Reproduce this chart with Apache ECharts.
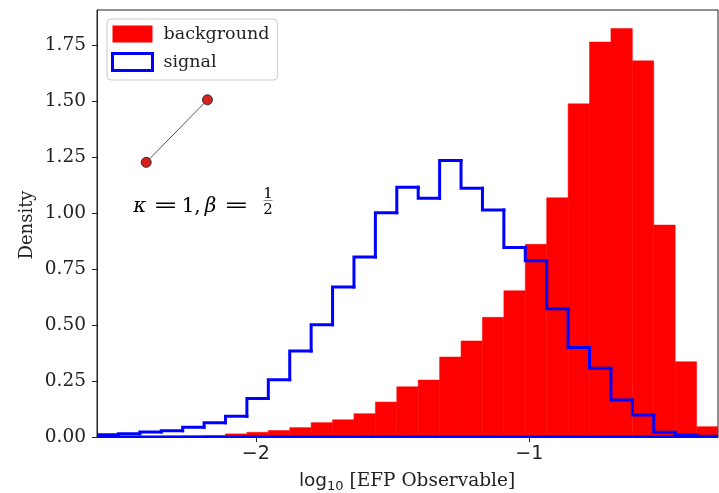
<!DOCTYPE html>
<html><head><meta charset="utf-8">
<script src="https://cdn.jsdelivr.net/npm/echarts@6/dist/echarts.min.js"></script>
<style>html,body{margin:0;padding:0;background:#fff}#c{width:719px;height:493px}</style>
</head><body><div id="c"></div>
<script>
// ---- data ----
const binStart = -2.581;
const binEnd = -0.3095;
const binCount = 29;
const background = [0, 0, 0, 0.004, 0.005, 0.006, 0.014, 0.021, 0.029, 0.042, 0.064, 0.077, 0.104, 0.156, 0.224, 0.254, 0.357, 0.429, 0.534, 0.653, 0.860, 1.068, 1.487, 1.763, 1.823, 1.679, 0.946, 0.336, 0.046];
const signal = [0.010, 0.014, 0.022, 0.028, 0.043, 0.064, 0.093, 0.172, 0.255, 0.384, 0.501, 0.670, 0.804, 1.001, 1.115, 1.066, 1.234, 1.110, 1.013, 0.846, 0.787, 0.572, 0.399, 0.307, 0.165, 0.098, 0.021, 0.009, 0.003];
const yTicks = [0, 0.25, 0.5, 0.75, 1.0, 1.25, 1.5, 1.75];
const xTicks = [-2, -1];
const yMax = 1.906;
const diagramX = [-2.401, -2.177];
const diagramY = [1.226, 1.505];

// ---- build ----
const binWidth = (binEnd - binStart) / binCount;
const edges = Array.from({length: binCount + 1}, (_, i) => binStart + i * binWidth);
const bgData = background.map((h, i) => [edges[i], edges[i + 1], h]);
const sigData = signal.map((h, i) => [edges[i], edges[i + 1], h, i > 0 ? signal[i - 1] : 0, i === signal.length - 1 ? 1 : 0]);

const TXT = '#222';
const chart = echarts.init(document.getElementById('c'));
chart.setOption({
  animation: false,
  grid: {left: 97, top: 10, width: 621, height: 427, show: true, borderColor: '#222', borderWidth: 1, backgroundColor: 'transparent'},
  xAxis: {
    type: 'value', min: binStart, max: binEnd,
    axisLine: {show: true, lineStyle: {color: '#222', width: 1}},
    axisTick: {show: true, length: 5, customValues: xTicks, lineStyle: {color: '#222'}},
    axisLabel: {customValues: xTicks, margin: 8, color: TXT, fontFamily: 'DejaVu Sans', fontSize: 19,
      formatter: v => (v < 0 ? '\u2212' : '') + Math.abs(v)},
    splitLine: {show: false}
  },
  yAxis: {
    type: 'value', min: 0, max: yMax,
    axisLine: {show: true, lineStyle: {color: '#222', width: 1}},
    axisTick: {show: true, length: 5, customValues: yTicks, lineStyle: {color: '#222'}},
    axisLabel: {customValues: yTicks, margin: 11, color: TXT, fontFamily: 'DejaVu Serif', fontSize: 18.5,
      formatter: v => v.toFixed(2)},
    splitLine: {show: false}
  },
  legend: {
    orient: 'vertical', left: 107, top: 19, itemWidth: 40, itemHeight: 17, itemGap: 9,
    padding: [6, 8, 8, 4], backgroundColor: 'rgba(255,255,255,0.8)', borderColor: '#cccccc',
    borderWidth: 1, borderRadius: 4, selectedMode: false,
    textStyle: {fontFamily: 'DejaVu Serif', fontSize: 17.5, color: TXT, lineHeight: 17, padding: [0, 0, 0, 6]},
    data: [
      {name: 'background', icon: 'rect', itemStyle: {color: '#ff0000', borderWidth: 0}},
      {name: 'signal', icon: 'rect', itemStyle: {color: '#ffffff', borderColor: '#0000ff', borderWidth: 3}}
    ]
  },
  series: [
    {
      type: 'custom', name: 'background', coordinateSystem: 'cartesian2d', clip: true, z: 1,
      itemStyle: {color: '#ff0000'},
      encode: {x: [0, 1], y: 2},
      data: bgData,
      renderItem: function (params, api) {
        const p0 = api.coord([api.value(0), 0]);
        const p1 = api.coord([api.value(1), api.value(2)]);
        return {type: 'rect', shape: {x: p0[0], y: p1[1], width: p1[0] - p0[0], height: p0[1] - p1[1]},
          style: {fill: '#ff0000', stroke: '#ff0000', lineWidth: 0.5}};
      }
    },
    {
      type: 'custom', name: 'signal', coordinateSystem: 'cartesian2d', clip: true, z: 2,
      itemStyle: {color: '#ffffff', borderColor: '#0000ff', borderWidth: 3},
      encode: {x: [0, 1], y: 2},
      data: sigData,
      renderItem: function (params, api) {
        const x0 = api.value(0), x1 = api.value(1), h = api.value(2), hp = api.value(3), last = api.value(4);
        const pts = [api.coord([x0, hp]), api.coord([x0, h]), api.coord([x1, h])];
        if (last) { pts.push(api.coord([x1, 0])); pts.push(api.coord([edges[0], 0])); }
        return {type: 'polyline', shape: {points: pts},
          style: {stroke: '#0000ff', lineWidth: 3, fill: null, lineCap: 'square', lineJoin: 'miter'}};
      }
    },
    {
      type: 'line', name: 'diagram', z: 5, silent: true,
      data: diagramX.map((x, i) => [x, diagramY[i]]),
      symbol: 'circle', symbolSize: 10, showSymbol: true,
      lineStyle: {color: '#555', width: 1},
      itemStyle: {color: '#d62020', borderColor: '#333', borderWidth: 1}
    }
  ],
  graphic: [
    {type: 'text', x: 27.5, y: 225, rotation: Math.PI / 2,
      style: {text: 'Density', fill: TXT, font: '18px "DejaVu Serif"', align: 'center', verticalAlign: 'middle'}},
    {type: 'text', x: 407, y: 481,
      style: {text: '{a|log}{s|10}{b| [EFP Observable]}', align: 'center', verticalAlign: 'middle', fill: TXT,
        rich: {
          a: {fontFamily: 'DejaVu Sans', fontSize: 18.5, fill: TXT},
          s: {fontFamily: 'DejaVu Sans', fontSize: 13, fill: TXT, padding: [12, 0, 0, 0]},
          b: {fontFamily: 'DejaVu Serif', fontSize: 18.5, fill: TXT}
        }}},
    // math annotation  kappa = 1, beta = 1/2
    {type: 'text', x: 139.7, y: 207, style: {text: 'κ', font: 'italic 20px "DejaVu Serif"', fill: '#000', align: 'center', verticalAlign: 'middle'}},
    {type: 'text', x: 165.5, y: 207, scaleX: 1.5, style: {text: '=', font: '20px "DejaVu Serif"', fill: '#000', align: 'center', verticalAlign: 'middle'}},
    {type: 'text', x: 188, y: 207, style: {text: '1', font: '20px "DejaVu Serif"', fill: '#000', align: 'center', verticalAlign: 'middle'}},
    {type: 'text', x: 197.5, y: 207, style: {text: ',', font: '20px "DejaVu Serif"', fill: '#000', align: 'center', verticalAlign: 'middle'}},
    {type: 'text', x: 210.5, y: 207, style: {text: 'β', font: 'italic 20px "DejaVu Serif"', fill: '#000', align: 'center', verticalAlign: 'middle'}},
    {type: 'text', x: 236.3, y: 207, scaleX: 1.5, style: {text: '=', font: '20px "DejaVu Serif"', fill: '#000', align: 'center', verticalAlign: 'middle'}},
    {type: 'text', x: 268, y: 194, style: {text: '1', font: '15px "DejaVu Serif"', fill: '#000', align: 'center', verticalAlign: 'middle'}},
    {type: 'line', shape: {x1: 263.5, y1: 200.5, x2: 272.5, y2: 200.5}, style: {stroke: '#777', lineWidth: 0.8}},
    {type: 'text', x: 268, y: 210, style: {text: '2', font: '15px "DejaVu Serif"', fill: '#000', align: 'center', verticalAlign: 'middle'}}
  ]
});
</script>
</body></html>
